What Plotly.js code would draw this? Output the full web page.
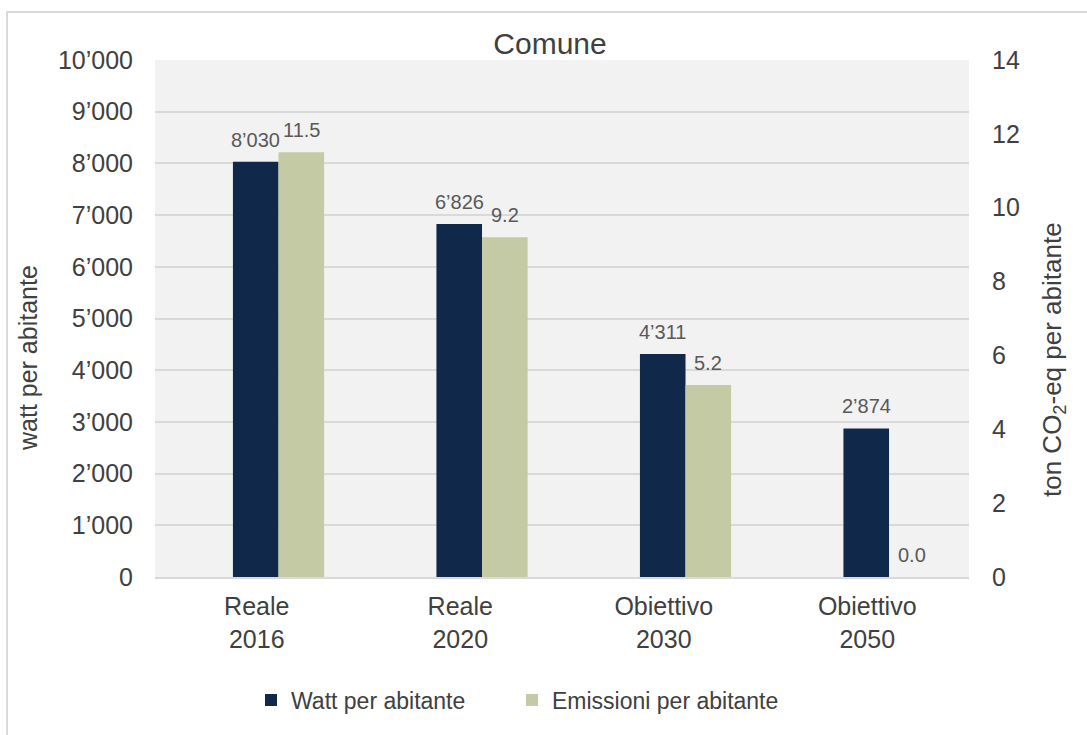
<!DOCTYPE html>
<html>
<head>
<meta charset="utf-8">
<script src="https://cdn.plot.ly/plotly-3.0.1.min.js"></script>
<style>
  html, body { margin: 0; padding: 0; background: #ffffff; }
  #wrap { position: relative; width: 1087px; height: 735px; overflow: hidden; }
  #frame { position: absolute; left: 6px; top: 11px; width: 1100px; height: 740px; border: 2px solid #d9d9d9; box-sizing: border-box; pointer-events: none; }
  #chart { position: absolute; left: 0; top: 0; width: 1087px; height: 735px; }
</style>
</head>
<body>
<div id="wrap">
  <div id="chart"></div>
  <div id="frame"></div>
</div>
<script>
const categories = ["Reale<br>2016", "Reale<br>2020", "Obiettivo<br>2030", "Obiettivo<br>2050"];
const wattPerAbitante = [8030, 6826, 4311, 2874];
const emissioniPerAbitante = [11.5, 9.2, 5.2, 0.0];
const leftTicks = [0, 1000, 2000, 3000, 4000, 5000, 6000, 7000, 8000, 9000, 10000];
const rightTicks = [0, 2, 4, 6, 8, 10, 12, 14];

const navy = "#10294a";
const sage = "#c4cba4";
const textCol = "#404040";
const labelCol = "#595959";
const font = "Liberation Sans, Arial, sans-serif";

const barW = 0.224;
const offWatt = -0.117;
const offEm = 0.107;

const traces = [
  {
    type: "bar",
    name: "Watt per abitante",
    x: categories,
    y: wattPerAbitante,
    yaxis: "y",
    width: barW,
    offset: offWatt,
    marker: { color: navy },
    legend: "legend",
    hoverinfo: "skip"
  },
  {
    type: "bar",
    name: "Emissioni per abitante",
    x: categories,
    y: emissioniPerAbitante,
    yaxis: "y2",
    width: barW,
    offset: offEm,
    marker: { color: sage },
    legend: "legend2",
    hoverinfo: "skip"
  }
];

function fmtThousands(v) {
  return String(v).replace(/\B(?=(\d{3})+(?!\d))/g, "’");
}

const labelAnnotations = [];
wattPerAbitante.forEach((v, i) => {
  labelAnnotations.push({
    text: fmtThousands(v),
    xref: "x", yref: "y",
    x: i + offWatt + barW / 2, y: v,
    xanchor: "center", yanchor: "bottom",
    yshift: 9,
    showarrow: false,
    font: { family: font, size: 20, color: labelCol }
  });
});
emissioniPerAbitante.forEach((v, i) => {
  labelAnnotations.push({
    text: v.toFixed(1),
    xref: "x", yref: "y2",
    x: i + offEm + barW / 2, y: v,
    xanchor: "center", yanchor: "bottom",
    yshift: 9,
    showarrow: false,
    font: { family: font, size: 20, color: labelCol }
  });
});

const legendBase = {
  orientation: "h",
  xanchor: "left",
  y: -0.238, yanchor: "middle",
  font: { family: font, size: 23, color: textCol },
  itemwidth: 30,
  bgcolor: "rgba(0,0,0,0)"
};

const layout = {
  width: 1087,
  height: 735,
  paper_bgcolor: "rgba(0,0,0,0)",
  plot_bgcolor: "#f2f2f2",
  font: { family: font, color: textCol, size: 24 },
  margin: { l: 155, r: 118, t: 60, b: 158, pad: 0 },
  title: {
    text: "Comune",
    font: { family: font, size: 30, color: textCol },
    xref: "container", x: 0.506, xanchor: "center",
    yref: "container", y: 1 - 43 / 735, yanchor: "middle"
  },
  barmode: "overlay",
  xaxis: {
    type: "category",
    showgrid: false,
    showline: true,
    linecolor: "#d9d9d9",
    linewidth: 2,
    ticks: "",
    tickfont: { family: font, size: 25, color: textCol },
    ticklabelstandoff: 6
  },
  yaxis: {
    range: [0, 10000],
    tickvals: leftTicks,
    ticktext: leftTicks.map(fmtThousands),
    showgrid: true,
    gridcolor: "#d9d9d9",
    gridwidth: 2,
    zeroline: false,
    showline: false,
    ticks: "",
    tickfont: { family: font, size: 25, color: textCol },
    ticklabelstandoff: 21
  },
  yaxis2: {
    overlaying: "y",
    side: "right",
    range: [0, 14],
    tickvals: rightTicks,
    showgrid: false,
    zeroline: false,
    showline: false,
    ticks: "",
    tickfont: { family: font, size: 25, color: textCol },
    ticklabelstandoff: 22
  },
  showlegend: true,
  legend: Object.assign({}, legendBase, { x: (251 - 155) / 814 }),
  legend2: Object.assign({}, legendBase, { x: (512 - 155) / 814 }),
  annotations: labelAnnotations.concat([
    {
      text: "watt per abitante",
      textangle: -90,
      xref: "paper", yref: "paper",
      x: (28 - 155) / 814, y: (577 - 358) / 517,
      xanchor: "center", yanchor: "middle",
      showarrow: false,
      font: { family: font, size: 25, color: textCol }
    },
    {
      text: "ton CO<sub>2</sub>-eq per abitante",
      textangle: -90,
      xref: "paper", yref: "paper",
      x: (1053 - 155) / 814, y: (577 - 360) / 517,
      xanchor: "center", yanchor: "middle",
      showarrow: false,
      font: { family: font, size: 26, color: textCol }
    }
  ])
};

Plotly.newPlot("chart", traces, layout, { displayModeBar: false, staticPlot: true });
</script>
</body>
</html>
